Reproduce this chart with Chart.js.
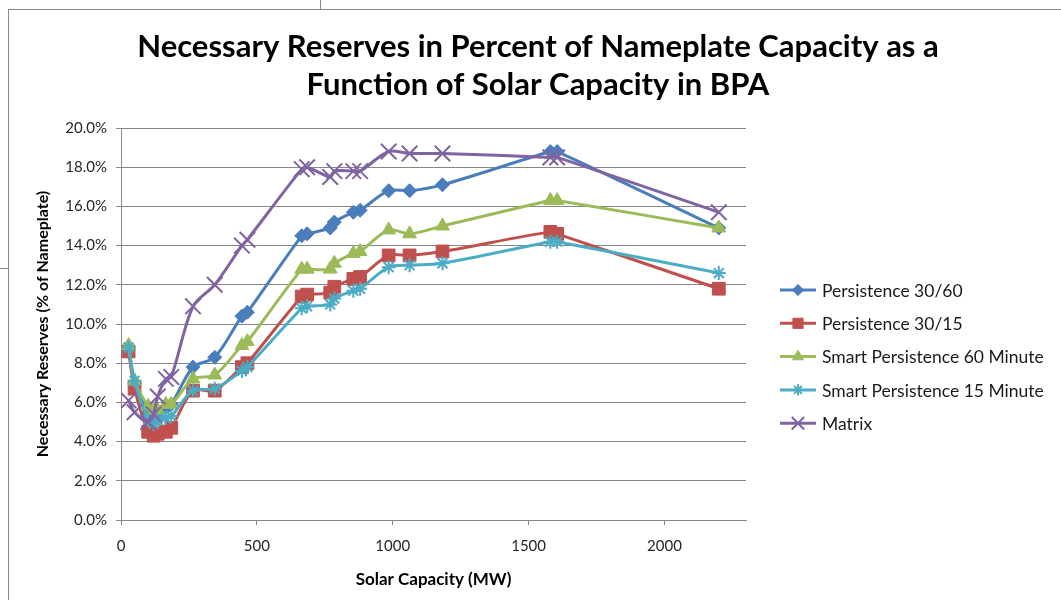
<!DOCTYPE html>
<html>
<head>
<meta charset="utf-8">
<script src="https://cdn.jsdelivr.net/npm/chart.js@4.4.1/dist/chart.umd.min.js"></script>
<style>
  html, body { margin: 0; padding: 0; background: #fff; }
  #wrap { position: relative; width: 1061px; height: 600px; overflow: hidden; }
  #frame { position: absolute; left: 8px; top: 9px; width: 1100px; height: 700px; border: 1px solid #8a8a8a; box-sizing: border-box; }
  #tick1 { position: absolute; left: 320px; top: 0; width: 1px; height: 9px; background: #8a8a8a; }
  #tick2 { position: absolute; left: 0; top: 268px; width: 8px; height: 1px; background: #8a8a8a; }
  canvas { position: absolute; left: 0; top: 0; }
</style>
</head>
<body>
<div id="wrap">
  <div id="frame"></div>
  <div id="tick1"></div>
  <div id="tick2"></div>
  <canvas id="chart" width="1061" height="600"></canvas>
</div>
<script>
// ===== DATA =====
const capacity = [28, 50, 100, 120, 135, 165, 185, 265, 345, 445, 465, 665, 685, 770, 785, 855, 880, 985, 1062, 1183, 1580, 1605, 2200];

const persistence3060 = [8.7, 7.0, 5.5, 5.2, 5.3, 5.7, 5.9, 7.8, 8.3, 10.4, 10.6, 14.5, 14.6, 14.9, 15.2, 15.7, 15.8, 16.8, 16.8, 17.1, 18.8, 18.8, 14.9];
const persistence3015 = [8.6, 6.7, 4.5, 4.3, 4.4, 4.5, 4.7, 6.6, 6.6, 7.8, 8.0, 11.4, 11.5, 11.6, 11.9, 12.3, 12.4, 13.5, 13.5, 13.7, 14.7, 14.6, 11.8];
const smart60 = [8.9, 7.1, 5.8, 5.6, 5.6, 5.9, 5.9, 7.2, 7.4, 8.9, 9.1, 12.8, 12.8, 12.8, 13.1, 13.6, 13.7, 14.8, 14.6, 15.0, 16.3, 16.3, 14.9];
const smart15 = [8.8, 7.1, 5.1, 4.9, 5.1, 5.2, 5.3, 6.6, 6.7, 7.6, 7.8, 10.8, 10.9, 11.0, 11.3, 11.7, 11.8, 12.9, 13.0, 13.1, 14.2, 14.2, 12.6];
const matrix = [6.1, 5.5, 5.0, 5.4, 6.3, 7.2, 7.3, 10.9, 12.0, 14.0, 14.3, 17.9, 18.0, 17.5, 17.8, 17.8, 17.8, 18.8, 18.7, 18.7, 18.5, 18.5, 15.7];

const seriesNames = ['Persistence 30/60', 'Persistence 30/15', 'Smart Persistence 60 Minute', 'Smart Persistence 15 Minute', 'Matrix'];
const xTickValues = [0, 500, 1000, 1500, 2000];
const titleLines = ['Necessary Reserves in Percent of Nameplate Capacity as a', 'Function of Solar Capacity in BPA'];

// ===== STYLES =====
const FONT = 'Lato, "Open Sans", sans-serif';
const seriesStyles = [
  { color: '#4a7ebb', point: 'rectRot', radius: 7, borderWidth: 1 },
  { color: '#c0504d', point: 'rect', radius: 9, borderWidth: 1 },
  { color: '#9bbb59', point: 'triangle', radius: 8, borderWidth: 1 },
  { color: '#4bacc6', point: 'star', radius: 7, borderWidth: 2 },
  { color: '#8064a2', point: 'crossRot', radius: 11, borderWidth: 2 }
];
const seriesValues = [persistence3060, persistence3015, smart60, smart15, matrix];

// Excel paints the last series on top, so reverse Chart.js' default order
const datasets = seriesValues.map((vals, i) => ({
  label: seriesNames[i],
  data: capacity.map((x, j) => ({ x: x, y: vals[j] })),
  order: seriesValues.length - i,
  borderColor: seriesStyles[i].color,
  backgroundColor: seriesStyles[i].color,
  pointBackgroundColor: seriesStyles[i].color,
  pointBorderColor: seriesStyles[i].color,
  pointStyle: seriesStyles[i].point,
  pointRadius: seriesStyles[i].radius,
  pointBorderWidth: seriesStyles[i].borderWidth,
  borderWidth: 3,
  tension: 0.3,
  showLine: true,
  fill: false
}));

// ===== TITLE + LEGEND (drawn by hand so they sit where Excel put them) =====
const extras = {
  id: 'extras',
  afterDraw(chart) {
    const ctx = chart.ctx;
    const area = chart.chartArea;
    ctx.save();

    // title, centred on the whole frame
    ctx.fillStyle = '#000';
    ctx.font = 'bold 31px ' + FONT;
    ctx.textAlign = 'center';
    ctx.textBaseline = 'middle';
    titleLines.forEach((line, i) => {
      ctx.fillText(line, 538, 47 + i * 38);
    });

    // legend: line + marker, in series order
    const x0 = area.right + 34;
    const mid = (area.top + area.bottom) / 2;
    chart.data.datasets.forEach((ds, i) => {
      const y = mid - 34 + i * 33.3;
      ctx.strokeStyle = ds.borderColor;
      ctx.fillStyle = ds.borderColor;
      ctx.lineWidth = 3;
      ctx.beginPath();
      ctx.moveTo(x0, y);
      ctx.lineTo(x0 + 36, y);
      ctx.stroke();
      ctx.lineWidth = ds.pointBorderWidth;
      Chart.helpers.drawPoint(ctx, {
        pointStyle: ds.pointStyle,
        radius: ds.pointRadius * 0.8,
        rotation: 0,
        borderWidth: ds.pointBorderWidth
      }, x0 + 18, y);
      ctx.fillStyle = '#1a1a1a';
      ctx.font = '17.5px ' + FONT;
      ctx.textAlign = 'left';
      ctx.fillText(ds.label, x0 + 42, y + 1);
    });
    ctx.restore();
  }
};

// ===== CHART =====
const ctx = document.getElementById('chart').getContext('2d');

new Chart(ctx, {
  type: 'scatter',
  data: { datasets: datasets },
  options: {
    responsive: false,
    animation: false,
    layout: { padding: { left: 20, right: 315, top: 128, bottom: 10 } },
    plugins: {
      legend: { display: false },
      tooltip: { enabled: false },
      title: { display: false }
    },
    scales: {
      x: {
        type: 'linear',
        min: 0,
        max: 2300,
        afterFit: (scale) => { scale.height = 70; },
        afterBuildTicks: (scale) => { scale.ticks = xTickValues.map(v => ({ value: v })); },
        grid: { drawOnChartArea: false, drawTicks: true, tickLength: 5, color: '#868686' },
        border: { color: '#868686' },
        ticks: {
          color: '#262626',
          font: { family: FONT, size: 15 },
          padding: 12,
          maxRotation: 0,
          callback: (v) => String(v)
        },
        title: {
          display: true,
          text: 'Solar Capacity (MW)',
          color: '#000',
          font: { family: FONT, size: 17, weight: 'bold' },
          padding: { top: 8, bottom: 0 }
        }
      },
      y: {
        min: 0,
        max: 20,
        afterFit: (scale) => { scale.width = 101; },
        grid: { color: '#868686', tickLength: 5 },
        border: { color: '#868686' },
        ticks: {
          stepSize: 2,
          color: '#262626',
          font: { family: FONT, size: 15 },
          padding: 9,
          callback: (v) => v.toFixed(1) + '%'
        },
        title: {
          display: true,
          text: 'Necessary Reserves (% of Nameplate)',
          color: '#000',
          font: { family: FONT, size: 16, weight: 'bold' },
          padding: { top: 13, bottom: 0 }
        }
      }
    }
  },
  plugins: [extras]
});
</script>
</body>
</html>
